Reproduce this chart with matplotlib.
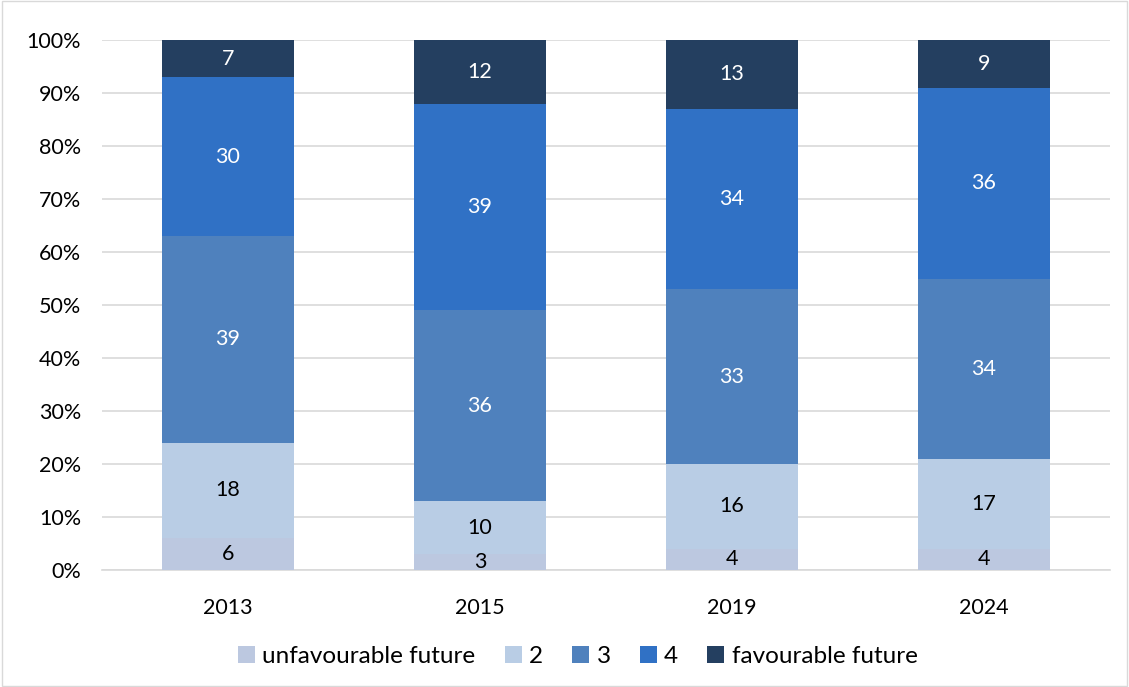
import numpy as np
import matplotlib.pyplot as plt
from matplotlib.patches import Rectangle

plt.rcParams['font.family'] = ['Lato', 'DejaVu Sans']

years = ['2013', '2015', '2019', '2024']
series = ['unfavourable future', '2', '3', '4', 'favourable future']
unfav = [6, 3, 4, 4]
two = [18, 10, 16, 17]
three = [39, 36, 33, 34]
four = [30, 39, 34, 36]
fav = [7, 12, 13, 9]

colors = ['#bcc8e0', '#b9cde5', '#4f81bd', '#3071c5', '#243f60']
text_colors = ['black', 'black', 'white', 'white', 'white']

fig = plt.figure(figsize=(11.29, 6.87), dpi=100)
ax = fig.add_axes([102 / 1129, 1 - 570 / 687, 1008 / 1129, 530 / 687])

# light border around the chart area
fig.patches.append(Rectangle((0.002, 0.002), 0.996, 0.996, transform=fig.transFigure,
                             fill=False, edgecolor='#d9d9d9', linewidth=1))

x = np.arange(len(years))
bottom = np.zeros(len(years))
for vals, name, c, tc in zip([unfav, two, three, four, fav], series, colors, text_colors):
    vals = np.array(vals, dtype=float)
    ax.bar(x, vals, 0.52, bottom=bottom, color=c, label=name, zorder=3)
    for xi, b, v in zip(x, bottom, vals):
        ax.text(xi, b + v / 2, f'{int(v)}', ha='center', va='center', color=tc,
                fontsize=15.5, zorder=4)
    bottom += vals

ax.set_xlim(-0.5, len(years) - 0.5)
ax.set_ylim(0, 100)
ax.set_yticks(np.arange(0, 101, 10))
ax.set_yticklabels([f'{v}%' for v in range(0, 101, 10)])
ax.set_xticks(x)
ax.set_xticklabels(years)
ax.tick_params(axis='both', length=0, labelsize=15.5, colors='black')
ax.tick_params(axis='x', pad=20)
ax.tick_params(axis='y', pad=15)
ax.yaxis.grid(True, color='#d9d9d9', linewidth=1.2, zorder=0)
for s in ['top', 'right', 'left']:
    ax.spines[s].set_visible(False)
ax.spines['bottom'].set_color('#d9d9d9')
ax.spines['bottom'].set_linewidth(1.2)

ax.legend(loc='center', bbox_to_anchor=(0.472, -0.163), ncol=5, frameon=False,
          fontsize=17.5, handlelength=0.7, handleheight=0.7, handletextpad=0.3,
          columnspacing=1.2)

fig.savefig('out.png', dpi=100)
